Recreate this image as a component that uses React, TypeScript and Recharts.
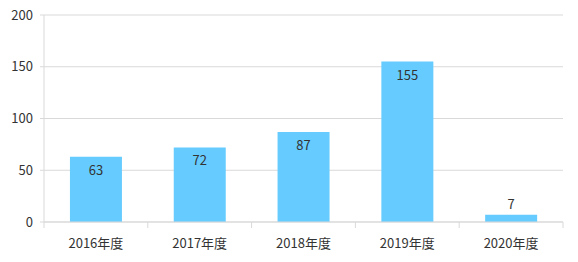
import { BarChart, Bar, XAxis, YAxis, CartesianGrid, LabelList } from "recharts";

const categories = ["2016年度", "2017年度", "2018年度", "2019年度", "2020年度"];
const counts = [63, 72, 87, 155, 7];
const yTicks = [0, 50, 100, 150, 200];

const data = categories.map((name, i) => ({ name, value: counts[i] }));

const W = 578;
const H = 262;
const M = { top: 15, right: 15, left: 0, bottom: 8 };
const Y_W = 44;
const X_H = 32;
const AXIS_Y = H - M.bottom - X_H;
const BAND = (W - M.left - M.right - Y_W) / categories.length;
const FONT = "'Noto Sans CJK JP', 'Noto Sans', sans-serif";
const GRID = "#d9d9d9";
const TEXT = "#333";

const XTick = (props: any) => {
  const { x, payload, index } = props;
  const left = x - BAND / 2;
  const right = x + BAND / 2;
  return (
    <g>
      <line x1={left} x2={left} y1={AXIS_Y} y2={AXIS_Y + 6} stroke={GRID} />
      {index === categories.length - 1 && (
        <line x1={right} x2={right} y1={AXIS_Y} y2={AXIS_Y + 6} stroke={GRID} />
      )}
      <text x={x} y={AXIS_Y + 26} textAnchor="middle" fill={TEXT} fontSize={13} fontFamily={FONT}>
        {payload.value}
      </text>
    </g>
  );
};

const ValueLabel = (props: any) => {
  const { x, y, width, height, value } = props;
  const cx = x + width / 2;
  const inside = height > 24;
  return (
    <text
      x={cx}
      y={inside ? y + 18 : y - 6}
      textAnchor="middle"
      fill={TEXT}
      fontSize={13}
      fontFamily={FONT}
    >
      {value}
    </text>
  );
};

export default function App() {
  return (
    <div style={{ position: "absolute", left: 0, top: 0, background: "#fff" }}>
      <BarChart width={W} height={H} data={data} margin={M} barCategoryGap="25%">
        <CartesianGrid vertical={false} stroke={GRID} />
        <XAxis
          dataKey="name"
          stroke={GRID}
          tickLine={false}
          tick={<XTick />}
          interval={0}
          height={X_H}
        />
        <YAxis
          domain={[0, 200]}
          ticks={yTicks}
          width={Y_W}
          stroke={GRID}
          tickSize={4}
          tickMargin={7}
          tick={{ fill: TEXT, fontSize: 13, fontFamily: FONT }}
        />
        <Bar dataKey="value" fill="#66ccff" isAnimationActive={false}>
          <LabelList dataKey="value" content={<ValueLabel />} />
        </Bar>
      </BarChart>
    </div>
  );
}
